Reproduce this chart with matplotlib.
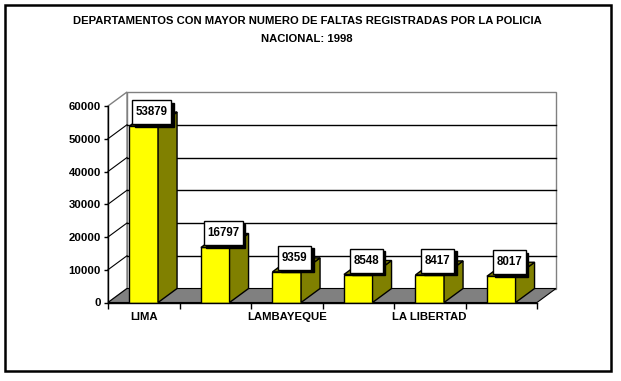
import numpy as np
import matplotlib
matplotlib.use("Agg")
import matplotlib.pyplot as plt
from matplotlib.patches import Polygon, Rectangle
from matplotlib.transforms import ScaledTranslation, IdentityTransform

TITLE = ("DEPARTAMENTOS CON MAYOR NUMERO DE FALTAS REGISTRADAS POR LA POLICIA\n"
         "NACIONAL: 1998")
# only every other category name is shown in the original
departamentos = ["LIMA", "", "LAMBAYEQUE", "", "LA LIBERTAD", ""]
faltas = [53879, 16797, 9359, 8548, 8417, 8017]
y_ticks = [0, 10000, 20000, 30000, 40000, 50000, 60000]

W, H, DPI = 621, 381, 100
FRONT = "#FFFF00"
SIDE = "#808000"
FLOOR = "#808080"
WALL_EDGE = "#808080"
DX, DY = 19, 14      # depth of the fake 3D box, pixels
BAR_W = 0.4

plt.rcParams["font.family"] = ["Liberation Sans", "DejaVu Sans"]
plt.rcParams["font.weight"] = "bold"
plt.rcParams["font.size"] = 8


def fig_box(l, t, r, b):
    # image pixel box -> figure fraction rect
    return [l / W, 1 - b / H, (r - l) / W, (b - t) / H]


fig = plt.figure(figsize=(W / DPI, H / DPI), dpi=DPI)
fig.patch.set_facecolor("white")

# outer frame
fig.add_artist(Rectangle((5, H - 371), 606, 366, transform=IdentityTransform(),
                         fill=False, ec="black", lw=1.8))

fig.text(307 / W, 1 - 30 / H, TITLE, ha="center", va="center",
         fontsize=8.15, fontweight="bold", linespacing=1.95)

ax = fig.add_axes(fig_box(108, 106, 537, 302.5))
n = len(faltas)
ax.set_xlim(0, n)
ax.set_ylim(y_ticks[0], y_ticks[-1])
ax.patch.set_visible(False)

depth = ScaledTranslation(DX / DPI, DY / DPI, fig.dpi_scale_trans)
back_tr = ax.transData + depth


def P(x, y, back=False):
    return (back_tr if back else ax.transData).transform((x, y))


def face(pts, **kw):
    ax.add_patch(Polygon(pts, closed=True, transform=IdentityTransform(),
                         clip_on=False, **kw))


ymax = y_ticks[-1]

# back wall
ax.add_patch(Rectangle((0, 0), n, ymax, transform=back_tr, clip_on=False,
                       fc="white", ec=WALL_EDGE, lw=1, zorder=0.5))
# left wall
face([P(0, 0), P(0, ymax), P(0, ymax, True), P(0, 0, True)],
     fc="white", ec=WALL_EDGE, lw=1, zorder=0.6)
# grid lines on the walls
for v in y_ticks[1:-1]:
    ax.plot([0, n], [v, v], transform=back_tr, color="black", lw=1,
            clip_on=False, zorder=0.7)
    a, b = P(0, v), P(0, v, True)
    ax.plot([a[0], b[0]], [a[1], b[1]], transform=IdentityTransform(),
            color="black", lw=0.8, clip_on=False, zorder=0.7)
# floor
face([P(0, 0), P(n, 0), P(n, 0, True), P(0, 0, True)],
     fc=FLOOR, ec="black", lw=0.8, zorder=1)

# bars
centers = np.arange(n) + 0.5
ax.bar(centers, faltas, width=BAR_W, color=FRONT, edgecolor="black",
       lw=1, zorder=3)
for c, v in zip(centers, faltas):
    x0, x1 = c - BAR_W / 2, c + BAR_W / 2
    face([P(x1, 0), P(x1, v), P(x1, v, True), P(x1, 0, True)],
         fc=SIDE, ec="black", lw=1, zorder=3)
    face([P(x0, v), P(x1, v), P(x1, v, True), P(x0, v, True)],
         fc=SIDE, ec="black", lw=1, zorder=3)

# value labels in white boxes with a drop shadow
lab_tr = ax.transData + ScaledTranslation(8 / DPI, 14 / DPI, fig.dpi_scale_trans)
labels = []
for c, v in zip(centers, faltas):
    labels.append(ax.text(c, v, str(v), transform=lab_tr, ha="center",
                          va="center", color="black", fontsize=8.3,
                          fontweight="bold", zorder=6, clip_on=False))

# axes
for s in ("top", "right"):
    ax.spines[s].set_visible(False)
for s in ("left", "bottom"):
    ax.spines[s].set_color("black")
    ax.spines[s].set_linewidth(1)
    ax.spines[s].set_zorder(4)

ax.set_yticks(y_ticks)
ax.set_yticklabels([str(t) for t in y_ticks], fontsize=8.2, fontweight="bold")
ax.tick_params(axis="y", direction="out", length=3, width=1, pad=2)
ax.set_xticks(np.arange(n + 1))
ax.set_xticklabels([])
ax.tick_params(axis="x", which="major", direction="out", length=4, width=1)
ax.set_xticks(centers, minor=True)
ax.set_xticklabels(departamentos, minor=True, fontsize=8.2, fontweight="bold")
ax.tick_params(axis="x", which="minor", length=0, pad=7)

# boxes sized from the rendered text
fig.canvas.draw()
renderer = fig.canvas.get_renderer()
for t in labels:
    bb = t.get_window_extent(renderer)
    cx, cy = (bb.x0 + bb.x1) / 2, (bb.y0 + bb.y1) / 2
    bw, bh = bb.width + 7, 24
    for off, fc, z in (((2.5, -2.5), "black", 4.8), ((0, 0), "white", 5)):
        fig.add_artist(Rectangle((cx - bw / 2 + off[0], cy - bh / 2 + off[1]),
                                 bw, bh, transform=IdentityTransform(),
                                 fc=fc, ec="black", lw=1, zorder=z))
    t.remove()
    fig.add_artist(t)
    t.set_transform(IdentityTransform())
    t.set_position((cx, cy))
    t.set_zorder(6)

fig.savefig("out.png", dpi=DPI, facecolor="white")
